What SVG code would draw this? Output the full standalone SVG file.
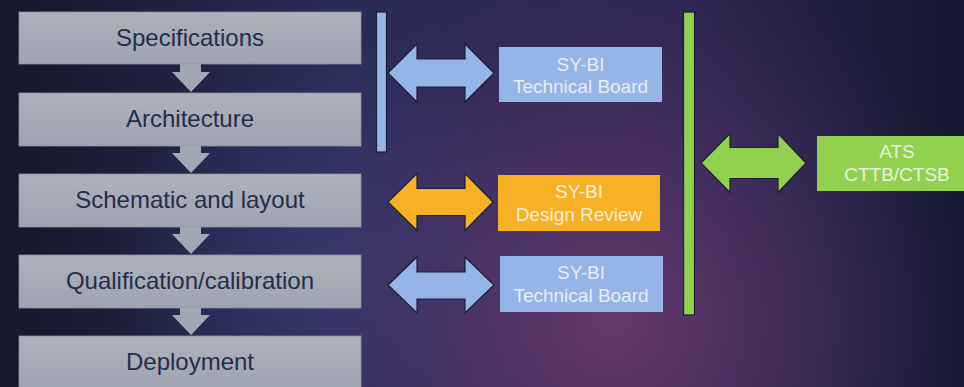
<svg xmlns="http://www.w3.org/2000/svg" width="964" height="387" viewBox="0 0 964 387">
  <defs>
    <linearGradient id="bgBase" x1="0" y1="0" x2="1" y2="0">
      <stop offset="0" stop-color="#16172a"/>
      <stop offset="0.35" stop-color="#2a2c58"/>
      <stop offset="0.7" stop-color="#2e2652"/>
      <stop offset="1" stop-color="#15182e"/>
    </linearGradient>
    <radialGradient id="glowPurple" cx="610" cy="320" r="380" gradientUnits="userSpaceOnUse">
      <stop offset="0" stop-color="#6a3b6e" stop-opacity="0.95"/>
      <stop offset="0.55" stop-color="#4e3266" stop-opacity="0.55"/>
      <stop offset="1" stop-color="#3a2c5c" stop-opacity="0"/>
    </radialGradient>
    <radialGradient id="glowBlue" cx="340" cy="270" r="230" gradientUnits="userSpaceOnUse">
      <stop offset="0" stop-color="#36427c" stop-opacity="0.7"/>
      <stop offset="1" stop-color="#36427c" stop-opacity="0"/>
    </radialGradient>
    <linearGradient id="stepFill" x1="0" y1="0" x2="0" y2="1">
      <stop offset="0" stop-color="#adb2bc"/>
      <stop offset="1" stop-color="#9ea4b0"/>
    </linearGradient>
  </defs>
  <style>
    .step rect { fill: url(#stepFill); stroke: #8d93a0; stroke-width: 0.8; }
    .step text { font-family: "Liberation Sans", Arial, sans-serif; font-size: 24px; fill: #262d4a; text-anchor: middle; }
    .flow { fill: #a2a8b3; }
    .box text { font-family: "Liberation Sans", Arial, sans-serif; font-size: 19px; fill: #ffffff; fill-opacity: 0.82; text-anchor: middle; }
    .blue { fill: #95b4e8; }
    .orange { fill: #f6b126; }
    .green { fill: #92d050; }
    .outl { stroke: #1b1f33; stroke-width: 1.2; stroke-linejoin: miter; }
  </style>

  <!-- background -->
  <rect width="964" height="387" fill="url(#bgBase)"/>
  <rect width="964" height="387" fill="url(#glowBlue)"/>
  <rect width="964" height="387" fill="url(#glowPurple)"/>

  <!-- process steps -->
  <g id="step-specifications" class="step">
    <rect x="19" y="12" width="342" height="52"/>
    <text x="190" y="46">Specifications</text>
  </g>
  <g id="step-architecture" class="step">
    <rect x="19" y="93" width="342" height="53"/>
    <text x="190" y="127">Architecture</text>
  </g>
  <g id="step-schematic" class="step">
    <rect x="19" y="174" width="342" height="53"/>
    <text x="190" y="208">Schematic and layout</text>
  </g>
  <g id="step-qualification" class="step">
    <rect x="19" y="255" width="342" height="53"/>
    <text x="190" y="289">Qualification/calibration</text>
  </g>
  <g id="step-deployment" class="step">
    <rect x="19" y="336" width="342" height="56"/>
    <text x="190" y="370">Deployment</text>
  </g>

  <!-- review bodies -->
  <g id="tb-upper" class="box">
    <rect class="blue" x="499" y="47" width="163" height="55"/>
    <text x="580.5" y="70.5">SY-BI</text>
    <text x="580.5" y="92.5">Technical Board</text>
  </g>
  <g id="design-review" class="box">
    <rect class="orange" x="498" y="175" width="162" height="56"/>
    <text x="579" y="197.5">SY-BI</text>
    <text x="579" y="220.5">Design Review</text>
  </g>
  <g id="tb-lower" class="box">
    <rect class="blue" x="500" y="256" width="163" height="56"/>
    <text x="581" y="279">SY-BI</text>
    <text x="581" y="302">Technical Board</text>
  </g>
  <g id="ats" class="box">
    <rect class="green" x="817" y="136" width="150" height="55"/>
    <text x="897" y="157.5">ATS</text>
    <text x="897" y="181">CTTB/CTSB</text>
  </g>

  <!-- connectors -->
  <g id="connectors">
    <!-- downward flow between steps -->
    <path class="flow" d="M180,64 H201 V72 H210 L191,92 L172,72 H180 Z"/>
    <path class="flow" d="M180,146 H201 V153 H210 L191,173 L172,153 H180 Z"/>
    <path class="flow" d="M180,227 H201 V234 H210 L191,254 L172,234 H180 Z"/>
    <path class="flow" d="M180,308 H201 V315 H210 L191,335 L172,315 H180 Z"/>

    <!-- span bars -->
    <rect class="blue outl" x="376.5" y="12" width="10" height="140"/>
    <rect class="green outl" x="683.5" y="12" width="11" height="303"/>

    <!-- two-way links -->
    <path class="blue outl" d="M388,73 L417,44 V59 H465 V44 L494,73 L465,102 V87 H417 V102 Z"/>
    <path class="orange outl" d="M388,202 L417,173.5 V188.5 H465 V173.5 L493,202 L465,230.5 V215.5 H417 V230.5 Z"/>
    <path class="blue outl" d="M388,285 L417,257 V272 H465 V257 L494,285 L465,313 V299 H417 V313 Z"/>
    <path class="green outl" d="M701,163 L730,133.5 V147.5 H778 V133.5 L806,163 L778,192.5 V178.5 H730 V192.5 Z"/>
  </g>
</svg>
